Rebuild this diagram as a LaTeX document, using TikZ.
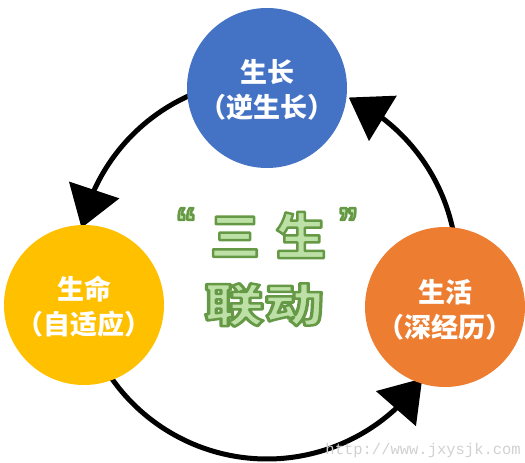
\documentclass[tikz,border=0pt]{standalone}
\usepackage{fontspec}
\newfontfamily\cjk{Noto Sans CJK SC}
\newfontfamily\wmfont{Liberation Mono}
\newfontfamily\qfont{Liberation Sans}
\usetikzlibrary{arrows.meta,bending,calc}
\definecolor{cblue}{HTML}{4472C4}
\definecolor{cyellow}{HTML}{FFC000}
\definecolor{corange}{HTML}{ED7D31}
\definecolor{glight}{HTML}{BCE0A6}
\definecolor{gdark}{HTML}{659845}
\newcommand\gout[1]{\leavevmode\special{pdf:literal direct 2 Tr 2.5 w 1 j 0.40 0.60 0.27 RG}#1\special{pdf:literal direct 0 Tr 1 w 0 j 0 G}}
\begin{document}
\begin{tikzpicture}[x=1pt,y=1pt,
  bubble/.style={circle, minimum size=160pt, inner sep=0pt, draw=none},
  lbl/.style={font=\cjk\bfseries\fontsize{27}{35}\selectfont, text=white, align=center},
  loop/.style={line width=5pt, -{Triangle[length=40pt,width=52pt,flex]}},
  green/.style={font=\cjk\bfseries\fontsize{50}{50}\selectfont, inner sep=0pt, text=glight}
]
\useasboundingbox (0,0) rectangle (525,463);
\fill[white] (0,0) rectangle (525,463);
\coordinate (cc) at (267,194);
\coordinate (s1) at ($(cc)+(113:190)$);
\coordinate (s2) at ($(cc)+(213:190)$);
\coordinate (s3) at ($(cc)+(9:190)$);
\draw[loop] (s1) arc[start angle=113,end angle=167.5,radius=190];
\draw[loop] (s2) arc[start angle=213,end angle=324.8,radius=190];
\draw[loop] (s3) arc[start angle=9,end angle=64.5,radius=190];
\node[bubble, fill=cblue] (grow) at (267,375) {};
\node[bubble, fill=cyellow] (life) at (84,158) {};
\node[bubble, fill=corange] (live) at (445,156) {};
\node[lbl] (growt) at ($(grow)+(0,-2)$) {生长\\（逆生长）};
\node[lbl] (lifet) at ($(life)+(0,-2)$) {生命\\（自适应）};
\node[lbl] (livet) at ($(live)+(0,-3)$) {生活\\（深经历）};
\node[green] (three) at (268,228) {\gout{三\hspace{16pt}生}};
\node[green, font=\qfont\bfseries\fontsize{42}{42}\selectfont, anchor=base] (q1) at (186,226) {\gout{“}};
\node[green, font=\qfont\bfseries\fontsize{42}{42}\selectfont, anchor=base] (q2) at (348,226) {\gout{”}};
\node[green, font=\cjk\bfseries\fontsize{46}{46}\selectfont] (link) at (264,158) {\scalebox{1.3}[1]{\gout{联动}}};
\node[font=\wmfont\fontsize{15.5}{16}\selectfont, text=black!18, anchor=east, inner sep=0pt] (wm) at (521,13) {http://www.jxysjk.com};
\end{tikzpicture}
\end{document}
